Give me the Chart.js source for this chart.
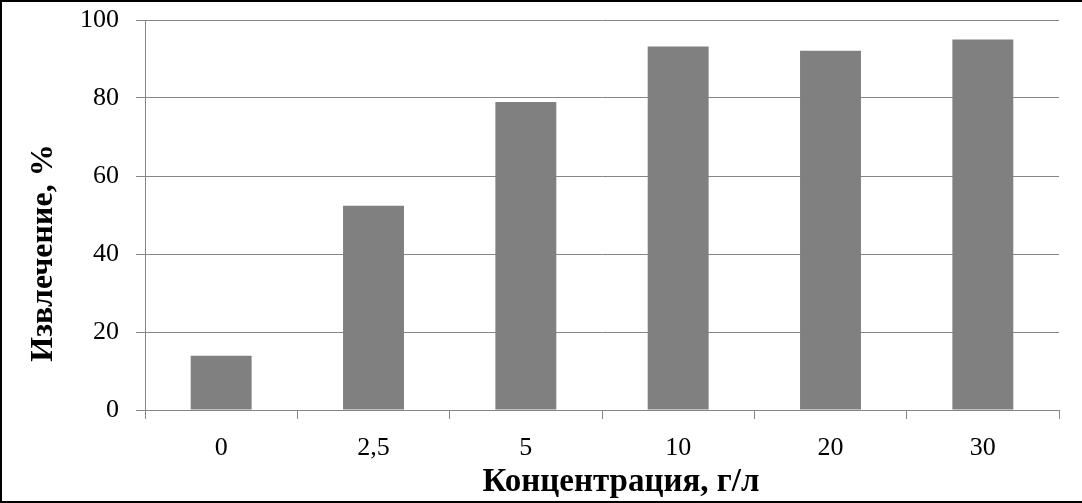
<!DOCTYPE html>
<html>
<head>
<meta charset="utf-8">
<script src="https://cdn.jsdelivr.net/npm/chart.js@4/dist/chart.umd.min.js"></script>
<style>
	html, body { margin: 0; padding: 0; background: #fff; }
	#wrap { position: relative; width: 1082px; height: 503px; }
</style>
</head>
<body>
<div id="wrap"><canvas id="chart"></canvas></div>
<script>
const categories = ['0', '2,5', '5', '10', '20', '30'];
const recovery = [13.9, 52.4, 79, 93.2, 92.1, 95];
const yTicks = [0, 20, 40, 60, 80, 100];

const xTitle = 'Концентрация, г/л';
const yTitle = 'Извлечение, %';

const serif = '"Liberation Serif", "Times New Roman", serif';
const lineGray = '#868686';

// frame and axis titles, placed like the original picture
const decorations = {
	id: 'decorations',
	afterDraw(chart) {
		const ctx = chart.ctx;
		ctx.save();
		ctx.strokeStyle = '#000';
		ctx.lineWidth = 2;
		ctx.beginPath();
		ctx.moveTo(1, 502);
		ctx.lineTo(1, 1);
		ctx.lineTo(1082, 1);
		ctx.moveTo(0, 502);
		ctx.lineTo(1082, 502);
		ctx.stroke();

		ctx.fillStyle = '#000';
		ctx.textAlign = 'center';
		ctx.textBaseline = 'middle';
		ctx.font = `bold 33px ${serif}`;
		ctx.fillText(xTitle, 621, 482);

		ctx.font = `bold 32px ${serif}`;
		ctx.translate(44, 253);
		ctx.rotate(-Math.PI / 2);
		ctx.fillText(yTitle, 0, 0);
		ctx.restore();
	},
};

new Chart(document.getElementById('chart'), {
	type: 'bar',
	data: {
		labels: categories,
		datasets: [{
			data: recovery,
			backgroundColor: '#808080',
			borderWidth: 0,
			categoryPercentage: 1,
			barPercentage: 0.4,
		}],
	},
	options: {
		responsive: true,
		maintainAspectRatio: false,
		animation: false,
		layout: { padding: { top: 20, right: 23, bottom: 0, left: 0 } },
		plugins: {
			legend: { display: false },
			tooltip: { enabled: false },
		},
		scales: {
			x: {
				grid: { offset: true, drawOnChartArea: false, drawTicks: true, tickLength: 9, color: lineGray },
				border: { color: lineGray, width: 1 },
				ticks: { color: '#000', font: { family: serif, size: 26 }, padding: 14, maxRotation: 0 },
				afterFit: (scale) => { scale.height = 93; },
			},
			y: {
				min: 0,
				max: 100,
				afterBuildTicks: (scale) => { scale.ticks = yTicks.map((value) => ({ value })); },
				grid: { color: lineGray, tickLength: 9 },
				border: { color: lineGray, width: 1 },
				ticks: { color: '#000', font: { family: serif, size: 26 }, padding: 17 },
				afterFit: (scale) => {
					scale.width = 145;
					scale.paddingTop = 0;
					scale.paddingBottom = 0;
				},
			},
		},
	},
	plugins: [decorations],
});
</script>
</body>
</html>
